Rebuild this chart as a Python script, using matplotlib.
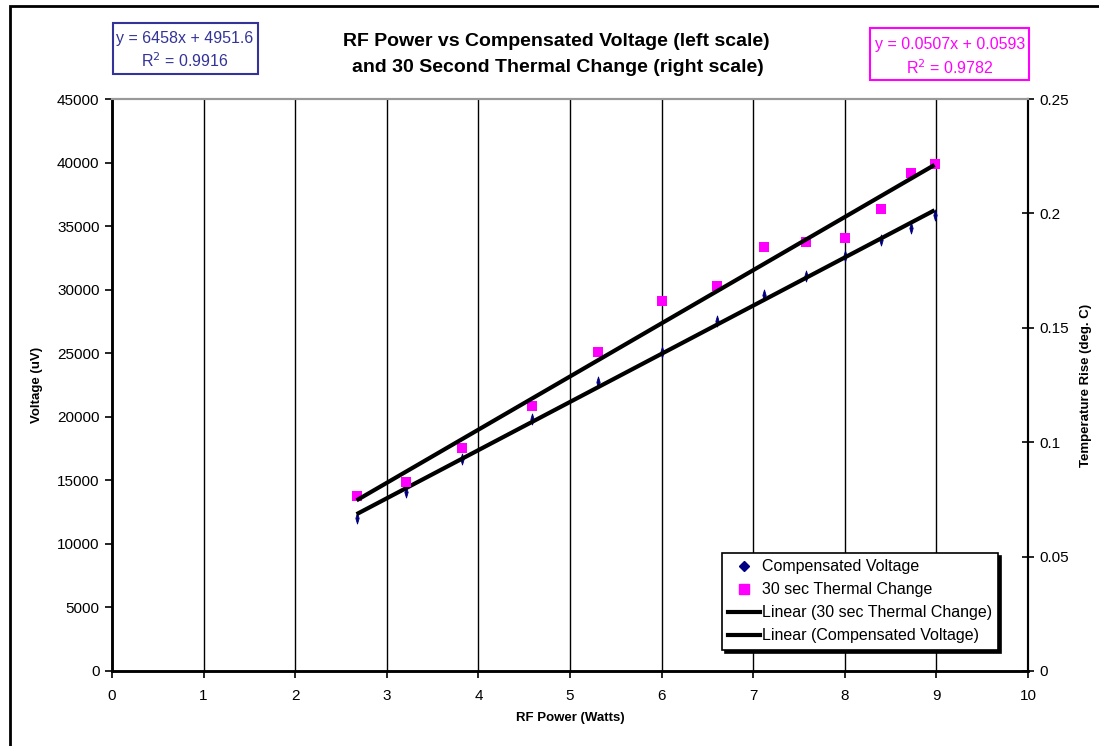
""" RF power vs compensated voltage and 30 s thermal change """

import numpy as np
import matplotlib.pyplot as plt
from matplotlib.lines import Line2D
from matplotlib.patches import Rectangle

plt.rcParams['font.family'] = ['Liberation Sans', 'DejaVu Sans']

# data
rf_power = [2.67, 3.21, 3.82, 4.59, 5.31, 6.0, 6.6, 7.12, 7.58, 8.0, 8.4, 8.72, 8.98]
comp_voltage = [12020, 14080, 16650, 19790, 22720, 25080, 27510, 29580,
                31040, 32670, 33870, 34890, 35890]
thermal_change = [0.0765, 0.0828, 0.0976, 0.1158, 0.1393, 0.1616, 0.1684,
                  0.1851, 0.1873, 0.1892, 0.2021, 0.2178, 0.2216]

x_ticks = list(range(0, 11))
v_ticks = list(range(0, 45001, 5000))
t_ticks = [0, 0.05, 0.1, 0.15, 0.2, 0.25]
t_labels = ["0", "0.05", "0.1", "0.15", "0.2", "0.25"]

W, H = 1099, 746
NAVY = "#000080"
MAGENTA = "#FF00FF"
BLUEBOX = "#333399"

fig = plt.figure(figsize=(W / 100, H / 100), dpi=100)


def px(x0, y0, x1, y1):
    """ caja en pixeles -> coordenadas de figura """
    return [x0 / W, 1 - y1 / H, (x1 - x0) / W, (y1 - y0) / H]


ax = fig.add_axes(px(112, 99, 1028, 671))
ax2 = ax.twinx()

# marcador de rombo estrecho
thin_diamond = [(-0.3, 0), (0, 1), (0.3, 0), (0, -1), (-0.3, 0)]

ax.set_xlim(0, 10)
ax.set_ylim(0, 45000)
ax2.set_ylim(0, 0.25)

for xv in x_ticks[1:-1]:
    ax.axvline(xv, color="black", lw=1.0, zorder=1)

# lineas de tendencia
p_v = np.polyfit(rf_power, comp_voltage, 1)
p_t = np.polyfit(rf_power, thermal_change, 1)
xs = np.array([rf_power[0], rf_power[-1]])

ax.plot(rf_power, comp_voltage, linestyle="none", marker=thin_diamond,
        markersize=8, color=NAVY, markeredgewidth=0.6, zorder=3)
ax.plot(xs, np.polyval(p_v, xs), color="black", lw=3, zorder=4,
        solid_capstyle="butt")
ax2.plot(rf_power, thermal_change, linestyle="none", marker="s",
         markersize=6.5, color=MAGENTA, markeredgewidth=0, zorder=3)
ax2.plot(xs, np.polyval(p_t, xs), color="black", lw=3, zorder=4,
         solid_capstyle="butt")

ax.set_xticks(x_ticks)
ax.set_yticks(v_ticks)
ax.set_yticklabels([str(v) for v in v_ticks])
ax2.set_yticks(t_ticks)
ax2.set_yticklabels(t_labels)

ax.tick_params(axis="both", direction="out", length=5, width=1.2,
               labelsize=11, colors="black", pad=4)
ax.tick_params(axis="x", pad=8)
ax2.tick_params(axis="y", direction="inout", length=8, width=1.2,
                labelsize=11, pad=4)

for a in (ax, ax2):
    a.spines["top"].set_color("#999999")
    a.spines["top"].set_linewidth(1.5)
    a.spines["left"].set_linewidth(1.8)
    a.spines["bottom"].set_linewidth(1.8)
    a.spines["right"].set_linewidth(1.5)
ax.patch.set_visible(False)

fig.text(570 / W, 1 - 718 / H, "RF Power (Watts)", ha="center", va="center",
         fontsize=9.5, fontweight="bold")
fig.text(37 / W, 1 - 385 / H, "Voltage (uV)", ha="center", va="center",
         rotation=90, fontsize=9.5, fontweight="bold")
fig.text(1086 / W, 1 - 385 / H, "Temperature Rise (deg. C)", ha="center",
         va="center", rotation=90, fontsize=9.5, fontweight="bold")

fig.text(556 / W, 1 - 42 / H, "RF Power vs Compensated Voltage (left scale)",
         ha="center", va="center", fontsize=14, fontweight="bold")
fig.text(558 / W, 1 - 68 / H, "and 30 Second Thermal Change (right scale)",
         ha="center", va="center", fontsize=14, fontweight="bold")

# cajas de ecuaciones
fig.patches.append(Rectangle((113 / W, 1 - 74 / H), 145 / W, 51 / H,
                             transform=fig.transFigure, fill=False,
                             edgecolor=BLUEBOX, lw=1.5))
fig.text(185 / W, 1 - 38 / H, "y = 6458x + 4951.6", ha="center", va="center",
         fontsize=11.5, color=BLUEBOX)
fig.text(185 / W, 1 - 61 / H, "R$^2$ = 0.9916", ha="center", va="center",
         fontsize=11.5, color=BLUEBOX)

fig.patches.append(Rectangle((870 / W, 1 - 80 / H), 159 / W, 52 / H,
                             transform=fig.transFigure, fill=False,
                             edgecolor=MAGENTA, lw=1.5))
fig.text(950 / W, 1 - 45 / H, "y = 0.0507x + 0.0593", ha="center",
         va="center", fontsize=11.5, color=MAGENTA)
fig.text(950 / W, 1 - 68 / H, "R$^2$ = 0.9782", ha="center", va="center",
         fontsize=11.5, color=MAGENTA)

# marco exterior
fig.patches.append(Rectangle((10 / W, -0.05), 1.2, 1 - 6 / H + 0.05,
                             transform=fig.transFigure, fill=False,
                             edgecolor="black", lw=2))

handles = [
    Line2D([], [], linestyle="none", marker="D", markersize=5, color=NAVY),
    Line2D([], [], linestyle="none", marker="s", markersize=6.5, color=MAGENTA),
    Line2D([], [], color="black", lw=3),
    Line2D([], [], color="black", lw=3),
]
labels = ["Compensated Voltage", "30 sec Thermal Change",
          "Linear (30 sec Thermal Change)", "Linear (Compensated Voltage)"]
leg = ax2.legend(handles, labels, loc="upper left",
                 bbox_to_anchor=(722 / W, 1 - 553 / H),
                 bbox_transform=fig.transFigure, borderaxespad=0,
                 fontsize=11.5, frameon=True, fancybox=False,
                 shadow={"facecolor": "black", "edgecolor": "black",
                         "alpha": 1},
                 handlelength=2.0, handletextpad=0.1, labelspacing=0.5,
                 borderpad=0.4)
leg.get_frame().set_edgecolor("black")
leg.get_frame().set_linewidth(1.2)

fig.savefig("out.png", dpi=100)
